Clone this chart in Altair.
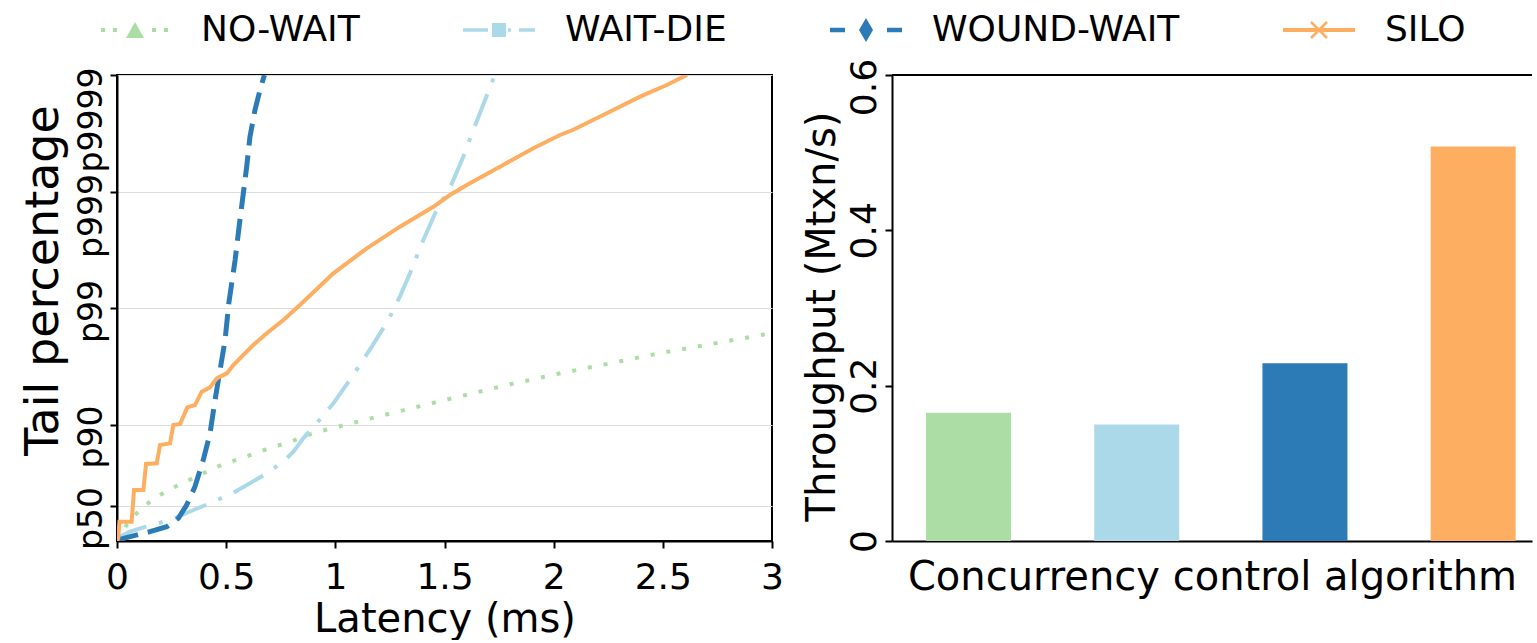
import math
import altair as alt
import pandas as pd

# ---------------- data ----------------
SERIES = ["NO-WAIT", "WAIT-DIE", "WOUND-WAIT", "SILO"]
COLORS = ["#abdda4", "#abd9e9", "#2c7bb6", "#fdae61"]

TAIL_LABELS = ["p50", "p90", "p99", "p999", "p9999"]
TAIL_PERCENT = [50, 90, 99, 99.9, 99.99]
LATENCY_TICKS = [0, 0.5, 1, 1.5, 2, 2.5, 3]
THROUGHPUT_TICKS = [0, 0.2, 0.4, 0.6]

# tail curves: latency (ms) vs tail level expressed as -log10(1 - p)
NOWAIT_LAT = [0.0, 0.055, 0.113, 0.166, 0.228, 0.296, 0.365, 0.426, 0.495, 0.571, 0.64,
              0.716, 0.785, 0.853, 0.922, 1.144, 1.365, 1.579, 1.8, 2.014, 2.235, 2.457,
              2.678, 2.9, 2.976, 3.1]
NOWAIT_TAIL = [0.0, 0.17, 0.281, 0.36, 0.429, 0.495, 0.552, 0.609, 0.667, 0.71, 0.758,
               0.809, 0.844, 0.895, 0.938, 1.044, 1.147, 1.245, 1.345, 1.433, 1.516, 1.602,
               1.676, 1.751, 1.777, 1.82]

WAITDIE_LAT = [0.0, 0.006, 0.06, 0.121, 0.197, 0.273, 0.35, 0.418, 0.533, 0.609, 0.686,
               0.762, 0.808, 0.853, 0.899, 0.991, 1.082, 1.167, 1.243, 1.296, 1.342, 1.403,
               1.464, 1.525, 1.586, 1.632, 1.686, 1.724, 1.735]
WAITDIE_TAIL = [0.0, 0.032, 0.08, 0.117, 0.157, 0.203, 0.266, 0.318, 0.415, 0.495, 0.581,
                0.681, 0.767, 0.881, 0.976, 1.182, 1.425, 1.668, 1.897, 2.1, 2.298, 2.584,
                2.841, 3.03, 3.299, 3.528, 3.785, 3.972, 4.0]

WOUNDWAIT_LAT = [0.0, 0.014, 0.06, 0.151, 0.228, 0.281, 0.319, 0.357, 0.395, 0.426, 0.449,
                 0.472, 0.495, 0.512, 0.541, 0.563, 0.579, 0.594, 0.609, 0.632, 0.655, 0.673,
                 0.676]
WOUNDWAIT_TAIL = [0.0, 0.014, 0.037, 0.08, 0.123, 0.195, 0.309, 0.466, 0.695, 0.924, 1.21,
                  1.468, 1.725, 2.04, 2.412, 2.755, 2.99, 3.213, 3.47, 3.7, 3.871, 3.986,
                  4.0]

SILO_LAT = [0.0, 0.006, 0.011, 0.067, 0.078, 0.121, 0.133, 0.182, 0.197, 0.243, 0.258,
            0.289, 0.322, 0.357, 0.388, 0.426, 0.457, 0.503, 0.533, 0.579, 0.624, 0.686,
            0.762, 0.838, 0.991, 1.144, 1.296, 1.449, 1.525, 1.602, 1.754, 1.907, 2.029,
            2.09, 2.243, 2.396, 2.518, 2.61]
SILO_TAIL = [0.0, 0.023, 0.166, 0.166, 0.438, 0.438, 0.661, 0.667, 0.824, 0.838, 0.996,
             1.004, 1.147, 1.167, 1.282, 1.319, 1.396, 1.439, 1.511, 1.597, 1.682, 1.783,
             1.897, 2.026, 2.298, 2.512, 2.698, 2.869, 2.97, 3.056, 3.213, 3.371, 3.485,
             3.53, 3.671, 3.814, 3.914, 4.0]

THROUGHPUT = [0.165, 0.150, 0.229, 0.508]

# ---------------- styles ----------------
FONT = "DejaVu Sans"
LINE_STYLE = {
    "NO-WAIT": dict(strokeWidth=4, strokeDash=[4, 12]),
    "WAIT-DIE": dict(strokeWidth=4, strokeDash=[34, 13, 4, 13]),
    "WOUND-WAIT": dict(strokeWidth=5, strokeDash=[22, 10]),
    "SILO": dict(strokeWidth=4),
}

# legend handles drawn as custom symbol paths; the symbol box is SYM px wide,
# the handle drawing extends beyond it (unit = SYM/2 px)
SYM = 30
U = SYM / 2.0


def _f(v):
    return f"{v / U:.4f}"


def _poly(pts):
    area = sum(pts[i][0] * pts[(i + 1) % len(pts)][1] - pts[(i + 1) % len(pts)][0] * pts[i][1]
               for i in range(len(pts)))
    if area < 0:
        pts = pts[::-1]
    return "M" + "L".join(f"{_f(x)},{_f(y)}" for x, y in pts) + "Z"


def _rect(x0, x1, h):
    return _poly([(x0, -h / 2), (x1, -h / 2), (x1, h / 2), (x0, h / 2)])


def _bar(p, q, t):
    dx, dy = q[0] - p[0], q[1] - p[1]
    n = math.hypot(dx, dy)
    nx, ny = -dy / n * t / 2, dx / n * t / 2
    return _poly([(p[0] + nx, p[1] + ny), (q[0] + nx, q[1] + ny), (q[0] - nx, q[1] - ny), (p[0] - nx, p[1] - ny)])


LEGEND_PATHS = [
    _rect(-34, -30, 4) + _rect(-22, -18, 4) + _rect(17, 21, 4) + _rect(29, 33, 4)
    + _poly([(0, -8), (9, 8), (-9, 8)]),
    _rect(-36, -11, 3.5) + _rect(9, 12, 3.5) + _rect(20, 36, 3.5)
    + _poly([(-7, -7), (7, -7), (7, 7), (-7, 7)]),
    _rect(-36, -21, 4.5) + _rect(21, 36, 4.5) + _poly([(0, -12), (7, 0), (0, 12), (-7, 0)]),
    _rect(-36, 36, 4) + _bar((-8, -8), (8, 8), 2.5) + _bar((-8, 8), (8, -8), 2.5),
]

# ---------------- tables ----------------
curves = {
    "NO-WAIT": (NOWAIT_LAT, NOWAIT_TAIL),
    "WAIT-DIE": (WAITDIE_LAT, WAITDIE_TAIL),
    "WOUND-WAIT": (WOUNDWAIT_LAT, WOUNDWAIT_TAIL),
    "SILO": (SILO_LAT, SILO_TAIL),
}
frames = []
for s, (la, ta) in curves.items():
    frames.append(pd.DataFrame({"series": s, "lat": la, "tail": ta, "i": range(len(la))}))
lines_df = pd.concat(frames, ignore_index=True)

bars_df = pd.DataFrame({"series": SERIES, "idx": list(range(len(SERIES))), "tp": THROUGHPUT})

tail_vals = [round(-math.log10(1 - p / 100.0), 5) for p in TAIL_PERCENT]
expr = f"'{TAIL_LABELS[-1]}'"
for k in range(len(tail_vals) - 2, -1, -1):
    mid = (tail_vals[k] + tail_vals[k + 1]) / 2
    expr = f"datum.value < {mid:.4f} ? '{TAIL_LABELS[k]}' : ({expr})"

color_scale = alt.Scale(domain=SERIES, range=COLORS)
shape_scale = alt.Scale(domain=SERIES, range=LEGEND_PATHS)

LEG = alt.Legend(
    title=None, orient="none", legendX=0, legendY=-63, direction="horizontal",
    columns=4, columnPadding=103, labelFont=FONT, labelFontSize=36, labelColor="black",
    labelOffset=48, labelLimit=600, symbolSize=SYM * SYM, symbolStrokeWidth=0,
    symbolOpacity=1, padding=0, rowPadding=0,
)

LW, LH = 655, 466
RW = 640

x_left = alt.X("lat:Q", scale=alt.Scale(domain=[0, 3], nice=False, zero=False),
               axis=alt.Axis(values=LATENCY_TICKS, format="~g", title="Latency (ms)",
                             grid=False, labelFlush=False, labelPadding=12, titlePadding=4))
y_left = alt.Y("tail:Q", scale=alt.Scale(domain=[0, 4], nice=False),
               axis=alt.Axis(values=tail_vals, labelExpr=expr, title="Tail percentage",
                             grid=True, gridColor="#dcdcdc", gridWidth=1.2,
                             labelAngle=270, labelPadding=2, titlePadding=8, labelOverlap=False,
                             labelFontSize=33,
                             labelAlign={"condition": {"test": f"datum.value >= {tail_vals[-1] - 0.01}",
                                                       "value": "right"}, "value": "center"},
                             labelOffset={"condition": [
                                 {"test": f"datum.value >= {tail_vals[-1] - 0.01}", "value": -8},
                                 {"test": f"datum.value >= {tail_vals[-2] - 0.01}", "value": 24},
                                 {"test": f"datum.value >= {tail_vals[-3] - 0.01}", "value": 3}],
                                 "value": 12},
                             titleFontSize=46, titleY=205))

layers = []
for s, c in zip(SERIES, COLORS):
    layers.append(
        alt.Chart(lines_df[lines_df.series == s]).mark_line(color=c, clip=True, **LINE_STYLE[s])
        .encode(x=x_left, y=y_left, order="i:Q")
    )
legend_layer = alt.Chart(lines_df).mark_point(filled=True, opacity=0, size=SYM * SYM, clip=True).encode(
    x=x_left, y=y_left,
    color=alt.Color("series:N", scale=color_scale, legend=LEG),
    shape=alt.Shape("series:N", scale=shape_scale, legend=LEG),
)
left = alt.layer(*layers, legend_layer).properties(
    width=LW, height=LH, view=alt.ViewBackground(stroke="black", strokeWidth=2)
)

x_right = alt.X("idx:Q", scale=alt.Scale(domain=[-0.425, 3.32], nice=False, zero=False),
                axis=alt.Axis(title="Concurrency control algorithm", labels=False, ticks=False,
                              grid=False, titlePadding=16))
y_right = alt.Y("tp:Q", scale=alt.Scale(domain=[0, 0.6], nice=False),
                axis=alt.Axis(values=THROUGHPUT_TICKS, format="~g", title="Throughput (Mtxn/s)",
                              grid=False, labelAngle=270, labelPadding=2, titlePadding=4,
                              labelOverlap=False, titleY=241,
                              labelOffset={"condition": {"test": "datum.value >= 0.59", "value": 12},
                                           "value": 0}))
bars = alt.Chart(bars_df).mark_bar(size=85).encode(
    x=x_right, y=y_right,
    color=alt.Color("series:N", scale=color_scale, legend=None),
)
top_line = alt.Chart(bars_df.head(1)).mark_rule(color="black", strokeWidth=2).encode(
    y=alt.datum(0.6), x=alt.value(0), x2=alt.value(RW)
)
right = alt.layer(bars, top_line).properties(width=RW, height=LH)

chart = alt.hconcat(left, right, spacing=120, bounds="flush").properties(
    padding={"left": 19, "top": 12, "right": 0, "bottom": 0}, background="white"
).configure_view(stroke=None).configure_axis(
    domainColor="black", domainWidth=2, tickColor="black", tickWidth=2, tickSize=7,
    labelFont=FONT, labelFontSize=36, labelColor="black",
    titleFont=FONT, titleFontSize=40, titleFontWeight="normal", titleColor="black",
)

chart.save("out.html", embed_options={"renderer": "svg", "actions": False})
